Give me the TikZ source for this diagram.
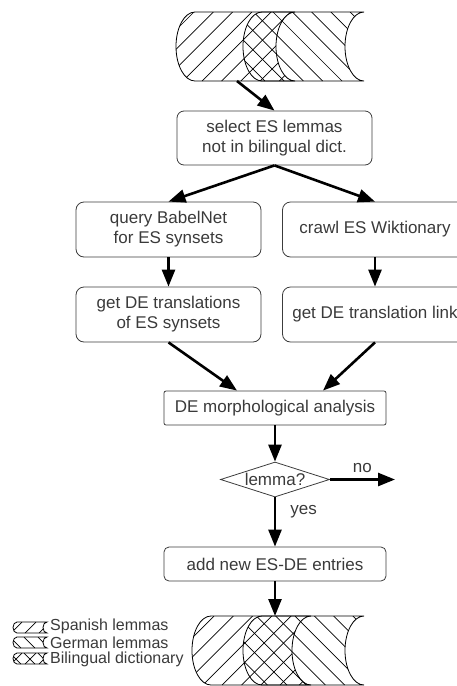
\documentclass[tikz,border=0pt]{standalone}
\usepackage{fontspec}
\setmainfont{Liberation Sans}
\usetikzlibrary{shapes.geometric,arrows.meta,calc}
\definecolor{boxline}{HTML}{3C3C3C}
\definecolor{txt}{HTML}{3A3A3A}
% cylinder outline path: xl, xr, ytop, ybottom, rx, ry
\newcommand\cylpath[6]{(#1,#3) -- (#2,#3) arc[start angle=90,end angle=270,x radius=#5pt,y radius=#6pt] -- (#1,#4) arc[start angle=270,end angle=90,x radius=#5pt,y radius=#6pt] -- cycle}
% hatch lines: phase x at top, ytop, ybottom, spacing, direction (-1 = /, 1 = \)
\newcommand\hatchlines[5]{\foreach \k in {-14,...,14}{\draw[hl] ({#1+#4*\k},#2) -- ++({#5*(#3-#2)},{#3-#2});}}
\begin{document}
\begin{tikzpicture}[x=1pt,y=-1pt,
  font=\fontsize{17}{20}\selectfont,
  box/.style={draw=boxline,line width=0.8pt,rounded corners=7pt,text=txt,align=center,inner sep=0pt},
  arr/.style={line width=2.6pt,-{Triangle[length=17pt,width=13pt]}},
  hl/.style={line width=0.7pt,black},
  outl/.style={draw,line width=0.8pt},
  lbl/.style={text=txt,inner sep=0pt}]
\path[use as bounding box] (0,0) rectangle (457,686);
\clip (0,0) rectangle (457,686);

% top cylinder
\begin{scope}\clip \cylpath{195}{295}{12}{81}{19}{34.5}; \hatchlines{213.3}{12}{81}{19.3}{-1}\end{scope}
\begin{scope}\clip \cylpath{262}{364}{12}{81}{19}{34.5}; \hatchlines{292.3}{12}{81}{19.3}{1}\end{scope}
\path[outl] \cylpath{195}{295}{12}{81}{19}{34.5};
\path[outl] \cylpath{262}{364}{12}{81}{19}{34.5};

% bottom cylinder
\begin{scope}\clip \cylpath{211}{311}{616}{685}{19}{34.5}; \hatchlines{214}{616}{685}{19.3}{-1}\end{scope}
\begin{scope}\clip \cylpath{262}{364}{616}{685}{19}{34.5}; \hatchlines{295}{616}{685}{19.3}{1}\end{scope}
\path[outl] \cylpath{211}{311}{616}{685}{19}{34.5};
\path[outl] \cylpath{262}{364}{616}{685}{19}{34.5};

\coordinate (topout) at (237,81);
\coordinate (botin) at (275,616);
\coordinate (noend) at (395,479.5);

% nodes
\node[box,minimum width=195pt,minimum height=54pt] (sel) at (274.5,138) {select ES lemmas\\not in bilingual dict.};
\node[box,rounded corners=8pt,minimum width=185pt,minimum height=55pt] (q) at (168.5,229.5) {query BabelNet\\for ES synsets};
\node[box,rounded corners=8pt,minimum width=185pt,minimum height=55pt] (cr) at (375,229.5) {crawl ES Wiktionary};
\node[box,rounded corners=8pt,minimum width=185pt,minimum height=55pt] (g1) at (168.5,314.5) {get DE translations\\of ES synsets};
\node[box,rounded corners=8pt,minimum width=185pt,minimum height=55pt] (g2) at (375,314.5) {get DE translation link};
\node[box,rounded corners=2pt,minimum width=222pt,minimum height=34pt] (morph) at (275,408) {DE morphological analysis};
\node[diamond,draw=boxline,line width=0.8pt,aspect=3.1,inner sep=0pt,minimum width=109pt,minimum height=35pt,text=txt] (lem) at (275,479.5) {lemma?};
\node[box,rounded corners=5pt,minimum width=222pt,minimum height=34pt] (add) at (275,564) {add new ES-DE entries};

% connectors
\draw[arr] (topout) -- (sel.north);
\draw[arr] (sel.south) -- (q.north);
\draw[arr] (sel.south) -- (cr.north);
\draw[arr] (q.south) -- (g1.north);
\draw[arr] (cr.south) -- (g2.north);
\draw[arr] (g1.south) -- ($(morph.north)+(-38,0)$);
\draw[arr] (g2.south) -- ($(morph.north)+(48,0)$);
\draw[arr] (morph.south) -- (lem.north);
\draw[arr] (lem.east) -- node[lbl,above=6pt]{no} (noend);
\draw[arr] (lem.south) -- node[lbl,pos=0.3,right=14pt]{yes} (add.north);
\draw[arr] (add.south) -- (botin);

% legend
\begin{scope}\clip \cylpath{17}{47}{622}{633}{4}{5.5}; \hatchlines{36}{622}{633}{14}{-1}\end{scope}
\path[outl] \cylpath{17}{47}{622}{633}{4}{5.5};
\begin{scope}\clip \cylpath{17}{47}{637}{648}{4}{5.5}; \hatchlines{24}{637}{648}{14}{1}\end{scope}
\path[outl] \cylpath{17}{47}{637}{648}{4}{5.5};
\begin{scope}\clip \cylpath{17}{47}{653}{664}{4}{5.5}; \hatchlines{36}{653}{664}{14}{-1}\hatchlines{24}{653}{664}{14}{1}\end{scope}
\path[outl] \cylpath{17}{47}{653}{664}{4}{5.5};
\node[lbl,anchor=west,font=\fontsize{16}{18}\selectfont] (lg1) at (50,626.5) {Spanish lemmas};
\node[lbl,anchor=west,font=\fontsize{16}{18}\selectfont] (lg2) at (50,643) {German lemmas};
\node[lbl,anchor=west,font=\fontsize{16}{18}\selectfont] (lg3) at (50,659.5) {Bilingual dictionary};
\end{tikzpicture}
\end{document}
